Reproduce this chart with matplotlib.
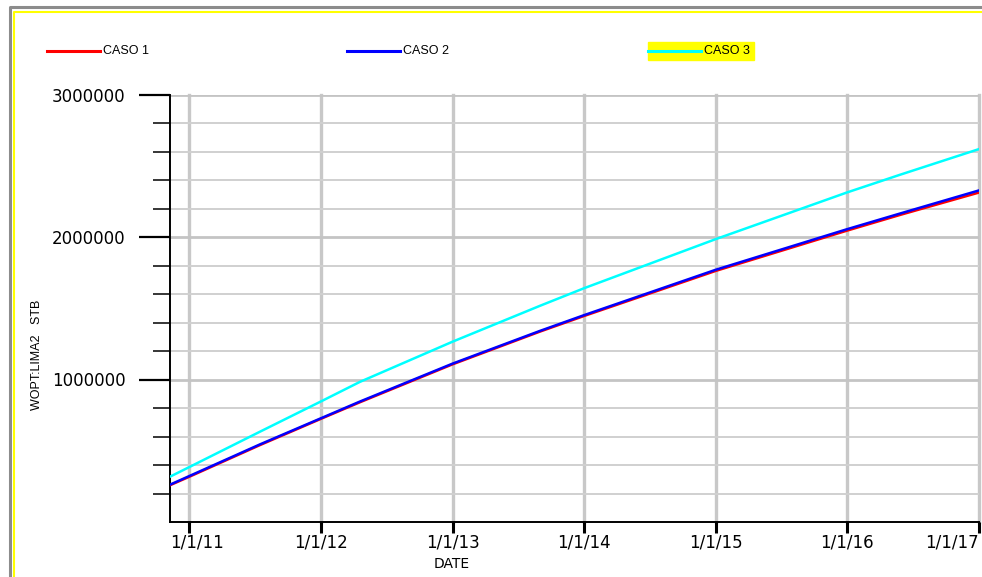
import matplotlib
matplotlib.use('Agg')
import matplotlib.pyplot as plt
import pandas as pd
from matplotlib.lines import Line2D
from matplotlib.patches import Rectangle
from matplotlib.transforms import blended_transform_factory

# Cumulative oil production (STB) per case
dates = pd.to_datetime([
    '2010-11-08', '2011-01-01', '2011-07-16', '2012-01-01', '2012-04-18',
    '2013-01-01', '2013-08-31', '2014-01-01', '2015-01-01', '2016-01-01',
    '2016-05-27', '2017-01-01',
])
caso1 = [258000, 318000, 540000, 724000, 840000, 1107000, 1336000, 1446000,
         1762000, 2045000, 2155000, 2312000]
caso2 = [262000, 323000, 545000, 728000, 845000, 1112000, 1341000, 1452000,
         1770000, 2055000, 2165000, 2327000]
caso3 = [318000, 386000, 634000, 846000, 983000, 1266000, 1517000, 1641000,
         1985000, 2313000, 2437000, 2617000]

series_names = ['CASO 1', 'CASO 2', 'CASO 3']
series_colors = ['#ff0000', '#0000ff', '#00ffff']

tick_dates = pd.to_datetime(['2011-01-01', '2012-01-01', '2013-01-01', '2014-01-01',
                             '2015-01-01', '2016-01-01', '2017-01-01'])
tick_labels = ['1/1/11', '1/1/12', '1/1/13', '1/1/14', '1/1/15', '1/1/16', '1/1/17']
y_major = [1000000, 2000000, 3000000]
y_labels = ['1000000', '2000000', '3000000']
y_minor = [v for v in range(200000, 3000000, 200000) if v not in y_major]

W, H = 982, 577
fig = plt.figure(figsize=(W / 100, H / 100), dpi=100)
ax = fig.add_axes([170 / W, 1 - 522 / H, (979 - 170) / W, (522 - 94.5) / H])

for vals, color in zip([caso1, caso2, caso3], series_colors):
    ax.plot(dates, vals, color=color, lw=1.8, zorder=3)

ax.set_xlim(dates[0], tick_dates[-1])
ax.set_ylim(0, 3000000)

ax.set_xticks(tick_dates)
ax.set_xticklabels([''] * len(tick_dates))
ax.set_yticks(y_major)
ax.set_yticklabels(y_labels, fontsize=12, family='DejaVu Sans')
ax.set_yticks(y_minor, minor=True)

ax.tick_params(axis='y', which='major', direction='out', length=22, width=1.6, pad=10)
ax.tick_params(axis='y', which='minor', direction='out', length=12, width=1.1)
ax.tick_params(axis='x', which='major', direction='out', length=8, width=2.2, pad=2)

ax.set_axisbelow(True)
ax.grid(axis='x', which='major', color='#c8c8c8', lw=2.4)
ax.grid(axis='y', which='major', color='#c4c4c4', lw=2.0)
ax.grid(axis='y', which='minor', color='#d0d0d0', lw=1.4)
for gl in ax.get_xgridlines():
    gl.set_clip_on(False)

for side in ['top', 'right']:
    ax.spines[side].set_visible(False)
for side in ['left', 'bottom']:
    ax.spines[side].set_linewidth(1.4)

# Date labels: first one kept inside the left edge, last one inside the right edge
trans = blended_transform_factory(ax.transData, ax.transAxes)
for i, (d, lab) in enumerate(zip(tick_dates, tick_labels)):
    if i == 0:
        x, ha = dates[0], 'left'
    elif i == len(tick_dates) - 1:
        x, ha = d, 'right'
    else:
        x, ha = d, 'center'
    ax.text(x, -0.028, lab, transform=trans, ha=ha, va='top', fontsize=12,
            family='DejaVu Sans')

fig.text(452 / W, 1 - 564 / H, 'DATE', ha='center', va='center', fontsize=10,
         family='DejaVu Sans')
fig.text(37 / W, 1 - 355 / H, 'WOPT:LIMA2   STB', rotation=90, ha='center',
         va='center', fontsize=9, family='Liberation Sans')

# Legend row across the top
legend_x = [47, 347, 648]
ly = 1 - 51 / H
fig.add_artist(Rectangle((648 / W, 1 - 60 / H), 106 / W, 18 / H,
                         transform=fig.transFigure, color='#ffff00', zorder=1))
for name, color, x0 in zip(series_names, series_colors, legend_x):
    fig.add_artist(Line2D([x0 / W, (x0 + 53) / W], [ly, ly], color=color, lw=2.2,
                          transform=fig.transFigure, zorder=2))
    fig.text((x0 + 56) / W, ly, name, ha='left', va='center', fontsize=9,
             family='Liberation Sans', zorder=3)

# Window frame
fig.add_artist(Line2D([9.5 / W, 9.5 / W, 1.0], [0.0, 1 - 7 / H, 1 - 7 / H],
                      transform=fig.transFigure, color='#8c8c8c', lw=2.2))
fig.add_artist(Line2D([14 / W, 14 / W, 1.0], [0.0, 1 - 12 / H, 1 - 12 / H],
                      transform=fig.transFigure, color='#ffff00', lw=1.5))

fig.savefig('out.png', dpi=100)
